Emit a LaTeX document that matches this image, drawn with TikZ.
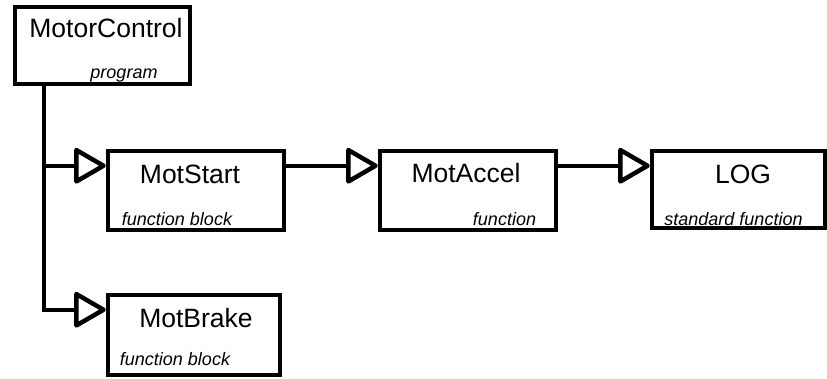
\documentclass[tikz,border=0pt]{standalone}
\usepackage{fontspec}
\setmainfont{Liberation Sans}
\usetikzlibrary{arrows.meta,calc}

\begin{document}
\begin{tikzpicture}[x=1pt,y=-1pt,
  unitbox/.style={draw, line width=4.5pt, minimum width=176pt, minimum height=79pt, inner sep=0pt},
  unitname/.style={anchor=base, inner sep=0pt, font=\fontsize{26.5}{30}\selectfont},
  unitkind/.style={anchor=base, inner sep=0pt, font=\fontsize{18}{22}\selectfont\itshape},
  callwire/.style={line width=4.5pt, -{Triangle[open, length=34pt, width=38pt, round]}}]

\useasboundingbox (0,0) rectangle (827,378);

% program unit and the called units
\node[unitbox, minimum width=175pt, minimum height=77pt] (mc) at (102.5,45.5) {};
\node[unitbox] (start) at (196,190.5) {};
\node[unitbox] (accel) at (468,190.5) {};
\node[unitbox, minimum width=173pt, minimum height=77pt] (log) at (738.5,189.5) {};
\node[unitbox, minimum width=172pt, minimum height=80pt] (brake) at (194,335) {};

% names and kinds
\node[unitname] (mc-name) at (106,37) {MotorControl};
\node[unitkind] (mc-kind) at (124,78) {program};
\node[unitname] (start-name) at (190,183) {MotStart};
\node[unitkind] (start-kind) at (177,225) {function block};
\node[unitname] (accel-name) at (466,182) {MotAccel};
\node[unitkind] (accel-kind) at (504.5,225) {function};
\node[unitname] (log-name) at (743,183) {LOG};
\node[unitkind] (log-kind) at (733.5,225) {standard function};
\node[unitname] (brake-name) at (196,327) {MotBrake};
\node[unitkind] (brake-kind) at (175,365) {function block};

% entry points of the call lines
\coordinate (spine) at (44,0);
\coordinate (start-in) at ($(start.north west)+(0,17)$);
\coordinate (accel-in) at ($(accel.north west)+(0,17)$);
\coordinate (log-in) at ($(log.north west)+(0,17)$);
\coordinate (brake-in) at ($(brake.north west)+(0,17)$);

% call lines
\draw[callwire] (spine |- mc.south) -- (spine |- brake-in) -- (brake-in);
\draw[callwire] (spine |- start-in) -- (start-in);
\draw[callwire] (start.east |- start-in) -- (accel-in);
\draw[callwire] (accel.east |- accel-in) -- (log-in);
\end{tikzpicture}
\end{document}
